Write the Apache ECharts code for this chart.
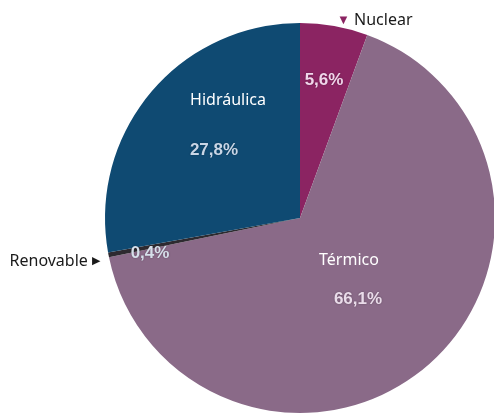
<!DOCTYPE html>
<html>
<head>
<meta charset="utf-8">
<script src="https://cdn.jsdelivr.net/npm/echarts@6/dist/echarts.min.js"></script>
<style>
  html, body { margin: 0; padding: 0; background: #fff; }
  #main { width: 494px; height: 415px; }
</style>
</head>
<body>
<div id="main"></div>
<script>
let chart = echarts.init(document.getElementById('main'));

// Data, clockwise from 12 o'clock
let names = ['Nuclear', 'Térmico', 'Renovable', 'Hidráulica'];
let values = [5.6, 66.1, 0.4, 27.8];
let valueLabels = ['5,6%', '66,1%', '0,4%', '27,8%'];

let colors = ['#8b2462', '#8a6a88', '#2e2a30', '#0f4a72'];
let pctColors = ['#f0d6ea', '#eadcea', '#d6dfea', '#c9d6e6'];

// label anchor points (pixels) for each slice
let pctPos = [[324, 80], [358, 299], [150, 253], [214, 150]];
let namePos = [[337, 20], [349, 260], [100, 261], [228, 100]];
let nameAlign = ['left', 'center', 'right', 'center'];

let pieData = names.map(function (n, i) {
    return {
        name: n,
        value: values[i],
        itemStyle: { color: colors[i] },
        label: { color: pctColors[i] }
    };
});

let option = {
    animation: false,
    series: [
        {
            type: 'pie',
            center: [300, 218],
            radius: 195,
            startAngle: 90,
            clockwise: true,
            avoidLabelOverlap: false,
            data: pieData,
            itemStyle: { borderWidth: 0 },
            label: {
                show: true,
                position: 'inside',
                formatter: function (p) { return valueLabels[p.dataIndex]; },
                fontFamily: 'Liberation Sans',
                fontWeight: 'bold',
                fontSize: 17,
                textShadowColor: 'rgba(0,0,0,0.3)',
                textShadowBlur: 2
            },
            labelLine: { show: false },
            labelLayout: function (p) {
                let pos = pctPos[p.dataIndex];
                return { x: pos[0], y: pos[1], align: 'center', verticalAlign: 'middle' };
            },
            emphasis: { disabled: true }
        },
        {
            // second layer only carries the category names
            type: 'pie',
            center: [300, 218],
            radius: 195,
            startAngle: 90,
            clockwise: true,
            silent: true,
            avoidLabelOverlap: false,
            data: pieData.map(function (d) {
                return { name: d.name, value: d.value, itemStyle: { color: 'transparent' } };
            }),
            label: {
                show: true,
                position: 'inside',
                fontFamily: 'Noto Sans',
                fontSize: 16,
                formatter: function (p) {
                    if (p.dataIndex === 0) return '{tri|▼}{dark| ' + p.name + '}';
                    if (p.dataIndex === 2) return '{dark|' + p.name + ' }{triDark|▶}';
                    return '{light|' + p.name + '}';
                },
                rich: {
                    dark: { color: '#1a1a1a', fontFamily: 'Noto Sans', fontSize: 16 },
                    light: { color: '#ffffff', fontFamily: 'Noto Sans', fontSize: 16 },
                    tri: { color: '#8b2462', fontSize: 13 },
                    triDark: { color: '#1a1a1a', fontSize: 11 }
                }
            },
            labelLine: { show: false },
            labelLayout: function (p) {
                let pos = namePos[p.dataIndex];
                return { x: pos[0], y: pos[1], align: nameAlign[p.dataIndex], verticalAlign: 'middle' };
            },
            emphasis: { disabled: true }
        }
    ]
};

chart.setOption(option);
</script>
</body>
</html>
